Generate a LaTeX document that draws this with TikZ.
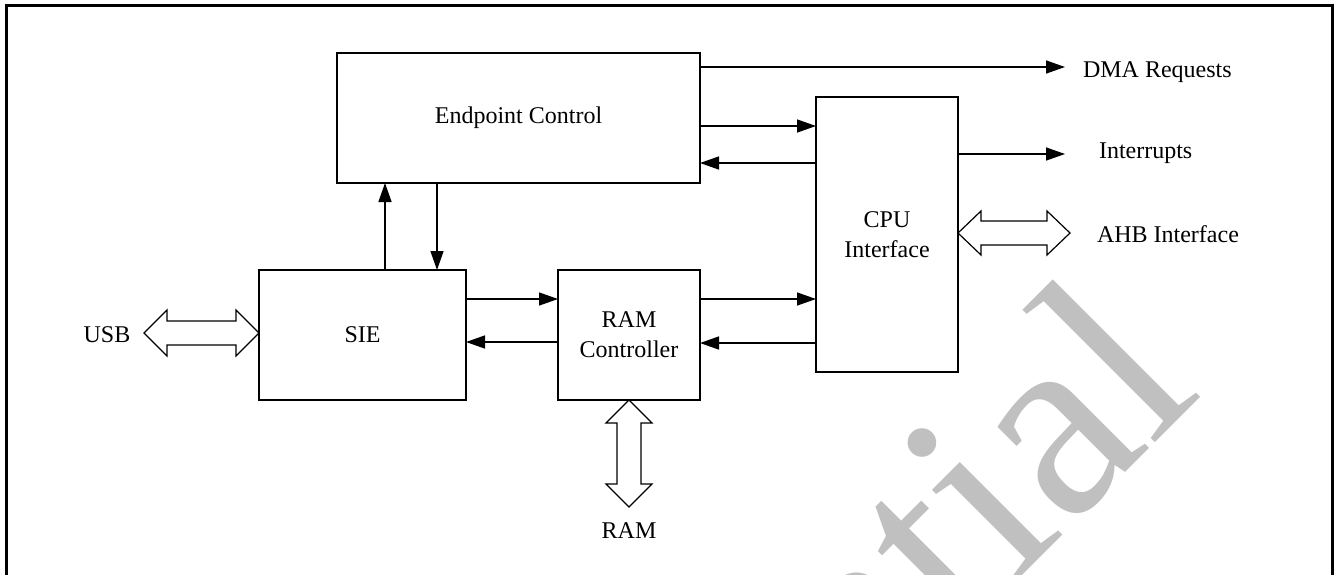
\documentclass[tikz,border=0pt]{standalone}
\usepackage{fontspec}
\setmainfont{Liberation Serif}
\usetikzlibrary{arrows.meta,calc}
\definecolor{wmgray}{RGB}{192,192,192}
\begin{document}
\begin{tikzpicture}[x=0.5pt,y=-0.5pt,
  box/.style={draw, line width=0.7pt, inner sep=0pt, outer sep=0pt, align=center, font=\fontsize{12}{15}\selectfont},
  lbl/.style={inner sep=0pt, outer sep=0pt, font=\fontsize{12}{15}\selectfont},
  arr/.style={line width=0.7pt, -{Triangle[length=9.5pt,width=6.5pt]}},
  dbl/.style={draw, line width=0.6pt, fill=white, line join=miter},
  frame/.style={line width=1.5pt},
  wm/.style={text=wmgray, font=\fontsize{135}{135}\selectfont, inner sep=0pt}
]
\useasboundingbox (0,0) rectangle (1338,574);
\begin{scope}
  \clip (0,0) rectangle (1338,574);
  \node[wm, rotate=45, anchor=base east] (wmk) at (1205,393) {Confidential};
\end{scope}

% frame
\draw[frame] (6,590) -- (6,5) -- (1332,5) -- (1332,590);

% blocks
\node[box, minimum width=181.5pt, minimum height=65pt] (ec) at (518.5,118) {Endpoint Control};
\node[box, minimum width=71pt, minimum height=137.5pt] (cpu) at (887,234.5) {CPU\\Interface};
\node[box, minimum width=103.5pt, minimum height=65pt] (sie) at (362.5,335) {SIE};
\node[box, minimum width=71pt, minimum height=65pt] (ram) at (629,335) {RAM\\Controller};

% labels
\node[lbl, anchor=base west] (dma) at (1083,77) {DMA Requests};
\node[lbl, anchor=base west] (irq) at (1099,158) {Interrupts};
\node[lbl, anchor=base west] (ahb) at (1097,242) {AHB Interface};
\node[lbl, anchor=base] (usb) at (107,342) {USB};
\node[lbl, anchor=base] (ramlbl) at (629,538) {RAM};

\coordinate (dmaE) at (1065,67);
\coordinate (irqE) at (1065,154);
\coordinate (usbT) at (144,333);

% arrows
\draw[arr] (ec.east |- dmaE) -- (dmaE);
\draw[arr] (cpu.east |- irqE) -- (irqE);
\draw[arr] (ec.east |- 0,126) -- (cpu.west |- 0,126);
\draw[arr] (cpu.west |- 0,163) -- (ec.east |- 0,163);
\draw[arr] (sie.east |- 0,299) -- (ram.west |- 0,299);
\draw[arr] (ram.west |- 0,342) -- (sie.east |- 0,342);
\draw[arr] (ram.east |- 0,299) -- (cpu.west |- 0,299);
\draw[arr] (cpu.west |- 0,343) -- (ram.east |- 0,343);
\draw[arr] (sie.north -| 385,0) -- (ec.south -| 385,0);
\draw[arr] (ec.south -| 437,0) -- (sie.north -| 437,0);

% double arrows
\draw[dbl] (usbT) -- ++(23,-23) -- ++(0,11) -- ++(69,0) -- ++(0,-11) -- ++(23,23)
  -- ++(-23,23) -- ++(0,-11) -- ++(-69,0) -- ++(0,11) -- cycle;
\draw[dbl] (cpu.east |- 0,233) -- ++(23,-22) -- ++(0,10) -- ++(66,0) -- ++(0,-10) -- ++(23,22)
  -- ++(-23,22) -- ++(0,-10) -- ++(-66,0) -- ++(0,10) -- cycle;
\draw[dbl] (ram.south) -- ++(23,23) -- ++(-11,0) -- ++(0,61) -- ++(11,0) -- ++(-23,23)
  -- ++(-23,-23) -- ++(11,0) -- ++(0,-61) -- ++(-11,0) -- cycle;
\end{tikzpicture}
\end{document}
